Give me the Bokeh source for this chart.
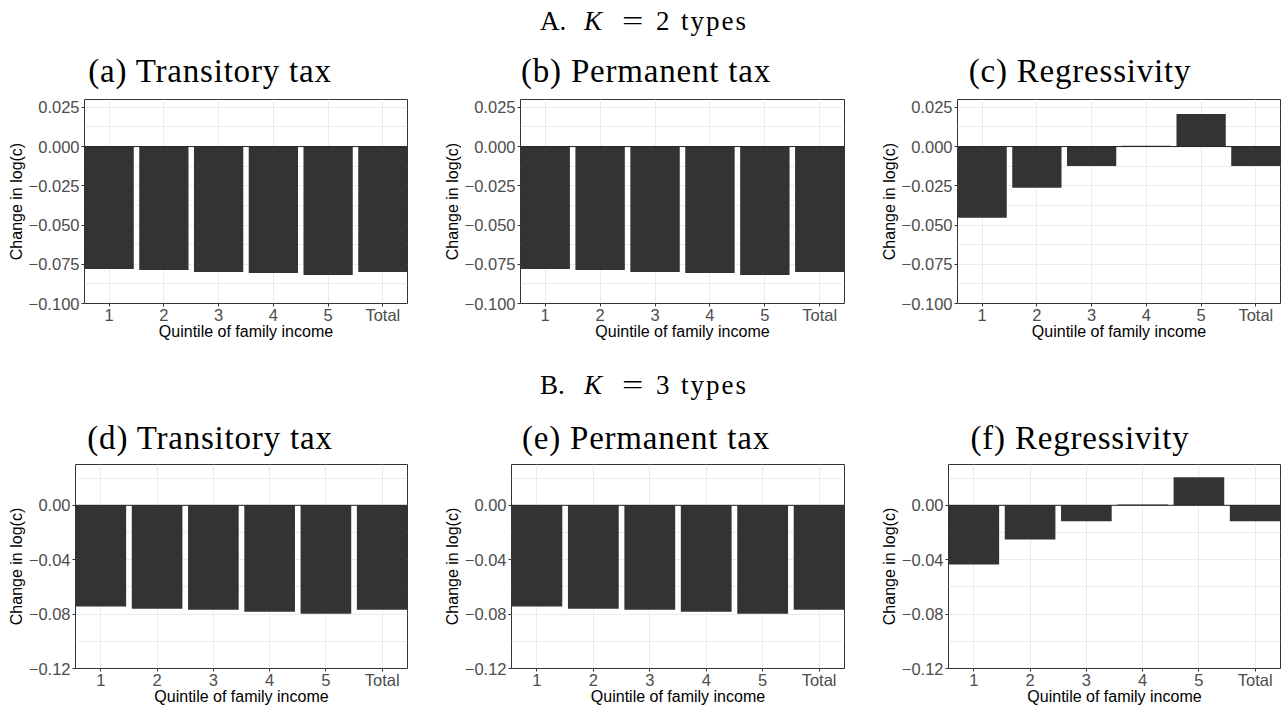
from bokeh.plotting import figure
from bokeh.models import Div, Range1d, FixedTicker, Span
from bokeh.layouts import column, row
from bokeh.embed import file_html
from bokeh.resources import INLINE

# ---------------- data ----------------
categories = ["1", "2", "3", "4", "5", "Total"]

a_transitory = [-0.0780, -0.0787, -0.0800, -0.0806, -0.0819, -0.0800]
b_permanent = [-0.0780, -0.0787, -0.0800, -0.0806, -0.0819, -0.0800]
c_regressivity = [-0.0454, -0.0263, -0.0123, 0.0005, 0.0208, -0.0123]

d_transitory = [-0.0745, -0.0760, -0.0768, -0.0782, -0.0797, -0.0768]
e_permanent = [-0.0745, -0.0760, -0.0768, -0.0782, -0.0797, -0.0768]
f_regressivity = [-0.0435, -0.0251, -0.0118, 0.0005, 0.0207, -0.0118]

ticks_A = [-0.1, -0.075, -0.05, -0.025, 0.0, 0.025]
tick_labels_A = ["\u22120.100", "\u22120.075", "\u22120.050", "\u22120.025", "0.000", "0.025"]
minor_A = [-0.0875, -0.0625, -0.0375, -0.0125, 0.0125]
yrange_A = (-0.1, 0.03)

ticks_B = [-0.12, -0.08, -0.04, 0.0]
tick_labels_B = ["\u22120.12", "\u22120.08", "\u22120.04", "0.00"]
minor_B = [-0.10, -0.06, -0.02, 0.02]
yrange_B = (-0.12, 0.03)

titles_A = ["(a) Transitory tax", "(b) Permanent tax", "(c) Regressivity"]
titles_B = ["(d) Transitory tax", "(e) Permanent tax", "(f) Regressivity"]

SANS = "Liberation Sans"
SERIF = "Liberation Serif"


def make_panel(vals, ticks, tick_labels, minor, yr, width, height, bl, br, bb):
    xs = list(range(1, len(categories) + 1))
    p = figure(width=width, height=height,
               x_range=Range1d(0.55, len(categories) + 0.45),
               y_range=Range1d(*yr),
               output_backend="svg", toolbar_location=None,
               min_border_left=bl, min_border_right=br,
               min_border_top=1, min_border_bottom=bb)
    p.background_fill_color = "white"
    p.border_fill_color = "white"
    p.outline_line_color = "#333333"
    p.outline_line_width = 1
    p.outline_line_alpha = 1

    p.vbar(x=xs, top=vals, bottom=0, width=0.9,
           fill_color="#333333", line_color=None)
    p.add_layout(Span(location=0, dimension="width",
                      line_color="#222222", line_width=1))

    p.xaxis.ticker = FixedTicker(ticks=xs)
    p.xaxis.major_label_overrides = {x: c for x, c in zip(xs, categories)}
    p.yaxis.ticker = FixedTicker(ticks=ticks, minor_ticks=minor)
    p.yaxis.major_label_overrides = {t: l for t, l in zip(ticks, tick_labels)}

    for ax in (p.xaxis[0], p.yaxis[0]):
        ax.axis_line_color = None
        ax.major_tick_line_color = "#333333"
        ax.major_tick_out = 3
        ax.major_tick_in = 0
        ax.minor_tick_line_color = None
        ax.major_label_text_font = SANS
        ax.major_label_text_font_size = "16.5px"
        ax.major_label_text_color = "#4D4D4D"
        ax.axis_label_text_font = SANS
        ax.axis_label_text_font_size = "16px"
        ax.axis_label_text_font_style = "normal"
        ax.axis_label_text_color = "black"

    p.xaxis.axis_label = "Quintile of family income"
    p.yaxis.axis_label = "Change in log(c)"
    p.xaxis.major_label_standoff = -1
    p.xaxis.axis_label_standoff = -4
    p.yaxis.major_label_standoff = 1
    p.yaxis.axis_label_standoff = 1

    p.xgrid.grid_line_color = "#EBEBEB"
    p.xgrid.grid_line_width = 1
    p.ygrid.grid_line_color = "#EBEBEB"
    p.ygrid.grid_line_width = 1
    p.ygrid.minor_grid_line_color = "#EBEBEB"
    p.ygrid.minor_grid_line_width = 1
    return p


def header_div(letter, k, height, pad_top):
    html = (
        f'<div style="font-family:\'{SERIF}\';font-size:27px;line-height:1;'
        f'padding-top:{pad_top}px;padding-left:540px;white-space:nowrap;color:#000">'
        f'<span style="display:inline-block;width:44px">{letter}.</span>'
        f'<span style="display:inline-block;width:38px;font-style:italic">K</span>'
        f'<span style="display:inline-block;width:34px;transform:scaleX(1.4);transform-origin:left">=</span>'
        f'<span style="display:inline-block;width:25px">{k}</span>'
        f'<span style="letter-spacing:2px">types</span>'
        '</div>'
    )
    return Div(text=html, width=1288, height=height, margin=0)


def title_row(texts, height):
    widths = [420, 452, 416]
    divs = []
    for t, w in zip(texts, widths):
        html = (
            f'<div style="width:{w}px;text-align:center;font-family:\'{SERIF}\';'
            f'font-size:33px;line-height:1;letter-spacing:0.8px;padding-top:3px;'
            f'white-space:nowrap;color:#000">{t}</div>'
        )
        divs.append(Div(text=html, width=w, height=height, margin=0))
    return row(*divs, spacing=0)


# Row A
pa = make_panel(a_transitory, ticks_A, tick_labels_A, minor_A, yrange_A, 437, 250, 84, 30, 45)
pb = make_panel(b_permanent, ticks_A, tick_labels_A, minor_A, yrange_A, 436, 250, 83, 29, 45)
pc = make_panel(c_regressivity, ticks_A, tick_labels_A, minor_A, yrange_A, 415, 250, 84, 8, 45)

# Row B
pd_ = make_panel(d_transitory, ticks_B, tick_labels_B, minor_B, yrange_B, 437, 249, 75, 30, 44)
pe = make_panel(e_permanent, ticks_B, tick_labels_B, minor_B, yrange_B, 436, 249, 74, 29, 44)
pf = make_panel(f_regressivity, ticks_B, tick_labels_B, minor_B, yrange_B, 415, 249, 75, 8, 44)

layout = column(
    header_div("A", "2", 52, 8),
    title_row(titles_A, 46),
    row(pa, pb, pc, spacing=0),
    header_div("B", "3", 71, 24),
    title_row(titles_B, 44),
    row(pd_, pe, pf, spacing=0),
    spacing=0,
)

open("out.html", "w").write(file_html(layout, INLINE))
